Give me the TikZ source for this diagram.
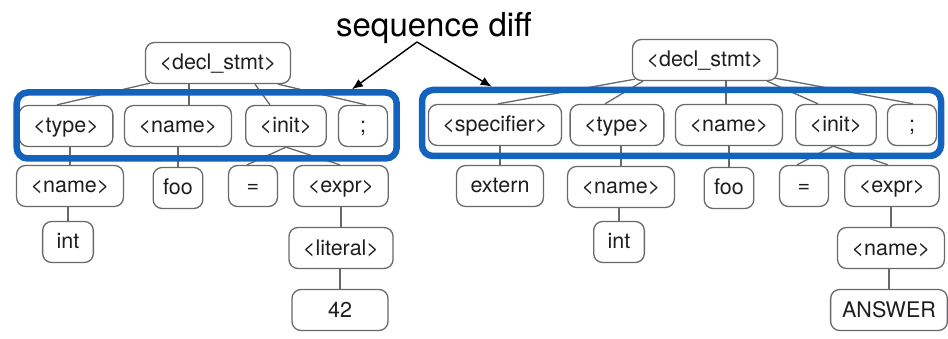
\documentclass[tikz,border=0pt]{standalone}
\usepackage{fontspec}
\setmainfont{TeX Gyre Heros}
\usetikzlibrary{calc,arrows.meta}

\definecolor{seqblue}{RGB}{18,98,190}
\definecolor{boxgray}{RGB}{105,105,108}
\definecolor{txtgray}{RGB}{30,30,30}

\tikzset{
  tnode/.style={draw=boxgray, line width=1.3pt, rounded corners=9pt,
    minimum height=41pt, minimum width=49pt, inner xsep=14pt,
    text height=17pt, text depth=3pt, text=txtgray,
    font=\fontsize{21.5}{26}\selectfont},
  edge/.style={draw=boxgray, line width=1.3pt},
  seqbox/.style={draw=seqblue, line width=6.5pt, rounded corners=11pt},
  pointer/.style={line width=1.4pt, -{Latex[length=11pt,width=9pt]}}
}

\begin{document}
\begin{tikzpicture}[x=1pt, y=-1pt]
    \useasboundingbox (0,0) rectangle (948,339);

    % Arbol de la izquierda
    \node[tnode] (ld) at (218,63) {<decl\_stmt>};
    \node[tnode] (ltype) at (66,126) {<type>};
    \node[tnode] (lname) at (178,126) {<name>};
    \node[tnode] (linit) at (286,126) {<init>};
    \node[tnode] (lsemi) at (363,126) {;};
    \node[tnode] (lname2) at (70,186) {<name>};
    \node[tnode, inner xsep=10pt] (lfoo) at (178,188) {foo};
    \node[tnode] (leq) at (253,186) {=};
    \node[tnode] (lexpr) at (341,186) {<expr>};
    \node[tnode] (lint) at (68,242) {int};
    \node[tnode] (llit) at (341,248) {<literal>};
    \node[tnode, minimum width=96pt] (l42) at (340,310) {42};

    % Aristas de la izquierda
    \draw[edge] ($(ld.south)+(-68,-1)$) -- ($(ltype.north)+(-9,0)$);
    \draw[edge] ($(ld.south)+(-29,0)$) -- ($(lname.north)+(11,0)$);
    \draw[edge] ($(ld.south)+(37,0)$) -- ($(linit.north)+(-16,0)$);
    \draw[edge] ($(ld.south)+(60,0)$) -- ($(lsemi.north)+(3,0)$);
    \draw[edge] (lname2.north) -- (lname2.north |- ltype.south);
    \draw[edge] (lfoo.north) -- (lname.south);
    \draw[edge] (linit.south) -- ($(leq.north)+(-6,0)$);
    \draw[edge] (linit.south) -- ($(lexpr.north)+(-1,0)$);
    \draw[edge] (llit.north) -- (lexpr.south);
    \draw[edge] (l42.north) -- (l42.north |- llit.south);
    \draw[edge] (lint.north) -- (lint.north |- lname2.south);

    % Arbol de la derecha
    \node[tnode] (rd) at (705,60) {<decl\_stmt>};
    \node[tnode] (rspec) at (495,125) {<specifier>};
    \node[tnode] (rtype) at (617,125) {<type>};
    \node[tnode] (rname) at (729,125) {<name>};
    \node[tnode] (rinit) at (836,125) {<init>};
    \node[tnode] (rsemi) at (912,125) {;};
    \node[tnode] (rext) at (500,186) {extern};
    \node[tnode] (rname2) at (621,187) {<name>};
    \node[tnode, inner xsep=10pt] (rfoo) at (729,188) {foo};
    \node[tnode] (req) at (804,186) {=};
    \node[tnode] (rexpr) at (892,186) {<expr>};
    \node[tnode] (rint) at (619,242) {int};
    \node[tnode] (rname3) at (891,248) {<name>};
    \node[tnode, inner xsep=11.5pt] (rans) at (889,310) {ANSWER};

    % Aristas de la derecha
    \draw[edge] ($(rd.south)+(-70,-2)$) -- ($(rspec.north)+(3,0)$);
    \draw[edge] ($(rd.south)+(-62,0)$) -- ($(rtype.north)+(-12,0)$);
    \draw[edge] ($(rd.south)+(21,0)$) -- ($(rname.north)+(-3,0)$);
    \draw[edge] ($(rd.south)+(62,0)$) -- ($(rinit.north)+(-18,0)$);
    \draw[edge] ($(rd.south)+(70,-3)$) -- ($(rsemi.north)+(1,0)$);
    \draw[edge] (rext.north) -- (rext.north |- rspec.south);
    \draw[edge] (rname2.north) -- (rname2.north |- rtype.south);
    \draw[edge] (rfoo.north) -- (rfoo.north |- rname.south);
    \draw[edge] ($(rinit.south)+(-3,0)$) -- ($(req.north)+(-7,0)$);
    \draw[edge] ($(rinit.south)+(-3,0)$) -- ($(rexpr.north)+(-4,0)$);
    \draw[edge] (rint.north) -- (rint.north |- rname2.south);
    \draw[edge] (rname3.north) -- (rname3.north |- rexpr.south);
    \draw[edge] (rans.north) -- (rans.north |- rname3.south);

    % Las secuencias
    \node[seqbox, minimum width=380pt, minimum height=66pt] (lseq) at (206.7,125.5) {};
    \node[seqbox, minimum width=519pt, minimum height=66pt] (rseq) at (681.5,123) {};

    % Etiqueta y flechas
    \node[anchor=base, inner sep=0pt, font=\fontsize{33}{38}\selectfont] (diff) at (434,37) {sequence diff};
    \coordinate (fork) at (417,42);
    \draw[pointer] (fork) -- ($(lseq.north east)+(-48,0)$);
    \draw[pointer] (fork) -- ($(rseq.north west)+(73,0)$);
\end{tikzpicture}
\end{document}
